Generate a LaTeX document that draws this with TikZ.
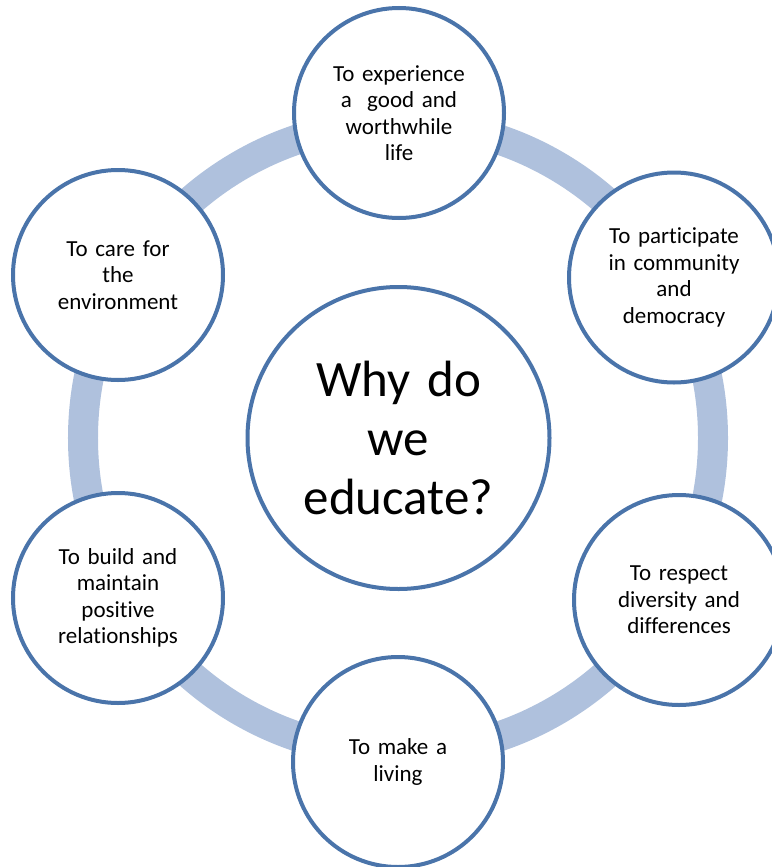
\documentclass[tikz,border=0pt]{standalone}
\usepackage{fontspec}
\setmainfont{Carlito}[Ligatures=NoCommon]
\definecolor{edgeblue}{HTML}{4A74AA}
\definecolor{ringblue}{HTML}{AFC1DD}
\begin{document}
\begin{tikzpicture}[x=1bp,y=-1bp,
  sat/.style={circle, draw=edgeblue, fill=white, line width=4bp, minimum size=210bp, inner sep=0pt,
    text width=170bp, align=center, font=\fontsize{23bp}{26.5bp}\selectfont},
  hub/.style={circle, draw=edgeblue, fill=white, line width=4bp, minimum size=302bp, inner sep=0pt,
    text width=240bp, align=center, font=\fontsize{51bp}{59bp}\selectfont},
  ringstyle/.style={circle, draw=ringblue, line width=30bp, minimum size=630bp, inner sep=0pt}]
\useasboundingbox (0,0) rectangle (772,867);
\node[ringstyle] (ring) at (398,438) {};
\node[hub] (hub) at (398.5,438) {Why do\\we\\educate?};
\node[sat] (top) at (399,113) {To experience\\a\ \ good and\\worthwhile\\life};
\node[sat] (tr) at (674,277.5) {To participate\\in community\\and\\democracy};
\node[sat] (br) at (679,600) {To respect\\diversity and\\differences};
\node[sat] (bot) at (398,762) {To make a\\living};
\node[sat] (bl) at (118,598) {To build and\\maintain\\positive\\relationships};
\node[sat] (tl) at (118,275) {To care for\\the\\environment};
\end{tikzpicture}
\end{document}
